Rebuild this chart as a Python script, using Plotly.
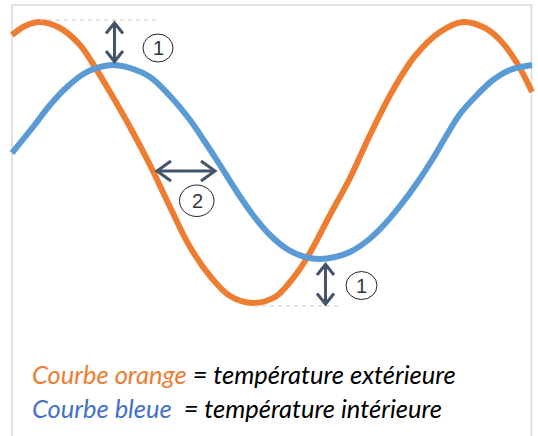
import plotly.graph_objects as go

# Curves (x in px, y in px from top)
orange_x = [12, 25, 40, 60, 80, 93, 110, 130, 150, 170, 190, 210, 230, 253, 275, 290, 307, 330, 350, 370, 393, 415, 440, 463, 485, 500, 517, 532]
orange_y = [35, 26, 22, 28, 45, 64, 92, 127, 165, 207, 247, 276, 296, 303, 297, 282, 258, 215, 178, 135, 90, 56, 32, 22, 28, 40, 63, 92]

blue_x = [12, 33, 50, 67, 85, 100, 113, 130, 150, 170, 190, 205, 220, 237, 253, 270, 287, 305, 320, 335, 350, 367, 383, 400, 417, 432, 445, 460, 477, 493, 510, 532]
blue_y = [153, 127, 105, 87, 73, 67, 65, 68, 77, 96, 120, 142, 165, 192, 215, 235, 249, 257, 259, 257, 252, 241, 226, 206, 183, 160, 138, 114, 95, 80, 70, 65]

label_orange = "Courbe orange"
label_blue = "Courbe bleue"
desc_orange = " = température extérieure"
desc_blue = "\u00a0\u00a0= température intérieure"

ORANGE = "#ED7D31"
BLUE = "#5B9BD5"
BLUE_TXT = "#4472C4"
ARROW = "#44546A"

fig = go.Figure()
fig.add_trace(go.Scatter(x=orange_x, y=orange_y, mode="lines",
                         line=dict(color=ORANGE, width=6, shape="spline", smoothing=1.0),
                         hoverinfo="skip", showlegend=False))
fig.add_trace(go.Scatter(x=blue_x, y=blue_y, mode="lines",
                         line=dict(color=BLUE, width=6, shape="spline", smoothing=1.0),
                         hoverinfo="skip", showlegend=False))

shapes = []
# frame
shapes.append(dict(type="rect", x0=12, x1=531.5, y0=5, y1=445,
                   line=dict(color="#D9D9D9", width=1.5), layer="below"))
# dashed reference lines
shapes.append(dict(type="line", x0=40, x1=157, y0=20, y1=20,
                   line=dict(color="#C8C8C8", width=1, dash="4px,4px")))
shapes.append(dict(type="line", x0=254, x1=342, y0=306, y1=306,
                   line=dict(color="#C8C8C8", width=1, dash="4px,4px")))

def arrow(path):
    shapes.append(dict(type="path", path=path, line=dict(color=ARROW, width=3)))

# top vertical double arrow
arrow("M 114.5 23 L 114.5 61.5")
arrow("M 106 33.5 L 114.5 23 L 123 33.5")
arrow("M 106 51 L 114.5 61.5 L 123 51")
# middle horizontal double arrow
arrow("M 157 171 L 215 171")
arrow("M 171 161 L 157 171 L 171 181")
arrow("M 201 161 L 215 171 L 201 181")
# bottom vertical double arrow
arrow("M 325.5 264.5 L 325.5 304")
arrow("M 317 275 L 325.5 264.5 L 334 275")
arrow("M 317 293.5 L 325.5 304 L 334 293.5")

# circles
shapes.append(dict(type="circle", x0=143, x1=173, y0=34, y1=62, line=dict(color="#222222", width=1)))
shapes.append(dict(type="circle", x0=179.5, x1=214, y0=185, y1=216.5, line=dict(color="#222222", width=1)))
shapes.append(dict(type="circle", x0=346, x1=377, y0=271.5, y1=299.5, line=dict(color="#222222", width=1)))

digit_font = dict(family="Liberation Sans", size=20, color="#333333")
annotations = [
    dict(x=158, y=48, text="1", showarrow=False, font=digit_font, xanchor="center", yanchor="middle"),
    dict(x=197, y=201, text="2", showarrow=False, font=digit_font, xanchor="center", yanchor="middle"),
    dict(x=361.5, y=285.5, text="1", showarrow=False, font=digit_font, xanchor="center", yanchor="middle"),
    dict(x=30, y=374, xanchor="left", yanchor="middle", showarrow=False,
         text=f"<i><span style='color:{ORANGE}'>{label_orange}</span>{desc_orange}</i>",
         font=dict(family="Lato", size=25.5, color="#000000")),
    dict(x=30, y=408, xanchor="left", yanchor="middle", showarrow=False,
         text=f"<i><span style='color:{BLUE_TXT}'>{label_blue}</span>{desc_blue}</i>",
         font=dict(family="Lato", size=25.5, color="#000000")),
]

fig.update_layout(
    width=538, height=436,
    margin=dict(l=0, r=0, t=0, b=0),
    paper_bgcolor="white", plot_bgcolor="white",
    xaxis=dict(range=[0, 538], visible=False, fixedrange=True),
    yaxis=dict(range=[436, 0], visible=False, fixedrange=True),
    shapes=shapes, annotations=annotations,
)

fig.write_html("out.html", config={"displayModeBar": False},
               post_script="document.body.style.margin='0';document.body.style.overflow='hidden';")
